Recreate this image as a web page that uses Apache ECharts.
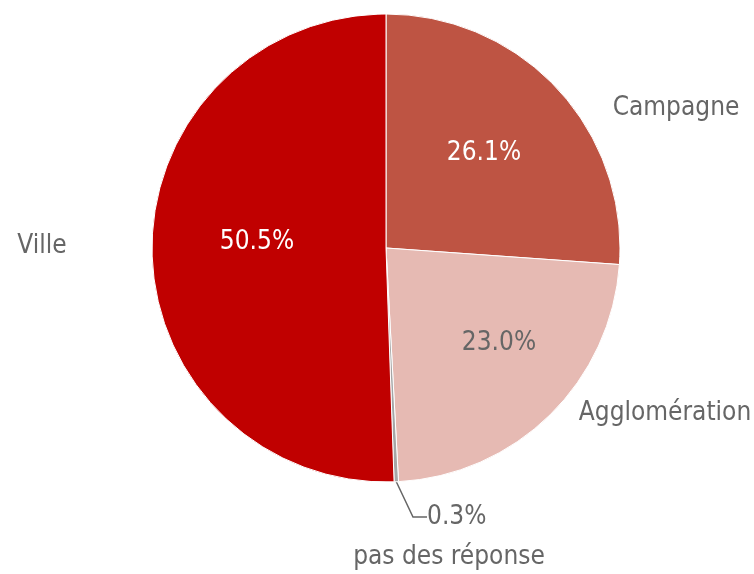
<!DOCTYPE html>
<html>
<head>
<meta charset="utf-8">
<script src="https://cdn.jsdelivr.net/npm/echarts@6/dist/echarts.min.js"></script>
<style>
  html, body { margin: 0; padding: 0; background: #fff; }
  #chart { width: 754px; height: 574px; }
</style>
</head>
<body>
<div id="chart"></div>
<script>
// données (sens horaire depuis midi)
const categories = ['Campagne', 'Agglomération', 'pas des réponse', 'Ville'];
const values = [26.1, 23.0, 0.3, 50.5];
const colors = ['#BE5443', '#E6BAB3', '#A6A6A6', '#C00000'];

// positions des étiquettes (px) : pourcentages et noms, même ordre que categories
const pctPos = [[484, 153], [499, 343], [427, 517], [257, 242]];
const namePos = [[676, 108], [665, 413], [449, 557], [42, 246]];
const pctColors = ['#fff', '#666', '#666', '#fff'];
const FONT = 'DejaVu Sans Condensed';
const FS = 26;

const chart = echarts.init(document.getElementById('chart'));

const pctRich = {};
pctColors.forEach((c, i) => {
  pctRich['c' + i] = { color: c, fontFamily: FONT, fontSize: FS };
});

const option = {
  animation: false,
  series: [
    {
      // secteurs + pourcentages
      type: 'pie',
      center: [386, 248],
      radius: 234,
      startAngle: 90,
      clockwise: true,
      silent: true,
      data: categories.map((name, i) => ({
        name: name,
        value: values[i],
        itemStyle: { color: colors[i] },
        label: i === 2 ? { position: 'outside' } : { position: 'inside' },
        labelLine: { show: i === 2 }
      })),
      itemStyle: { borderColor: '#fff', borderWidth: 1 },
      label: {
        show: true,
        fontFamily: FONT,
        fontSize: FS,
        formatter: (p) => `{c${p.dataIndex}|${values[p.dataIndex].toFixed(1)}%}`,
        rich: pctRich
      },
      labelLine: {
        length: 40,
        length2: 14,
        lineStyle: { color: '#666', width: 1.5 }
      },
      emphasis: { disabled: true },
      labelLayout: (params) => {
        const p = pctPos[params.dataIndex];
        if (params.dataIndex === 2) {
          return { x: p[0], y: p[1], align: 'left', verticalAlign: 'middle' };
        }
        return { x: p[0], y: p[1], align: 'center', verticalAlign: 'middle' };
      }
    },
    {
      // noms des catégories (série transparente)
      type: 'pie',
      center: [386, 248],
      radius: 234,
      startAngle: 90,
      silent: true,
      data: categories.map((name, i) => ({ name: name, value: values[i] })),
      itemStyle: { color: 'transparent', borderWidth: 0 },
      label: {
        show: true,
        position: 'outside',
        color: '#666',
        fontFamily: FONT,
        fontSize: FS,
        overflow: 'none',
        width: 300,
        formatter: '{b}'
      },
      labelLine: { show: false },
      emphasis: { disabled: true },
      labelLayout: (params) => {
        const p = namePos[params.dataIndex];
        return { x: p[0], y: p[1], align: 'center', verticalAlign: 'middle' };
      }
    }
  ]
};

chart.setOption(option);
window.addEventListener('resize', () => chart.resize());
</script>
</body>
</html>
